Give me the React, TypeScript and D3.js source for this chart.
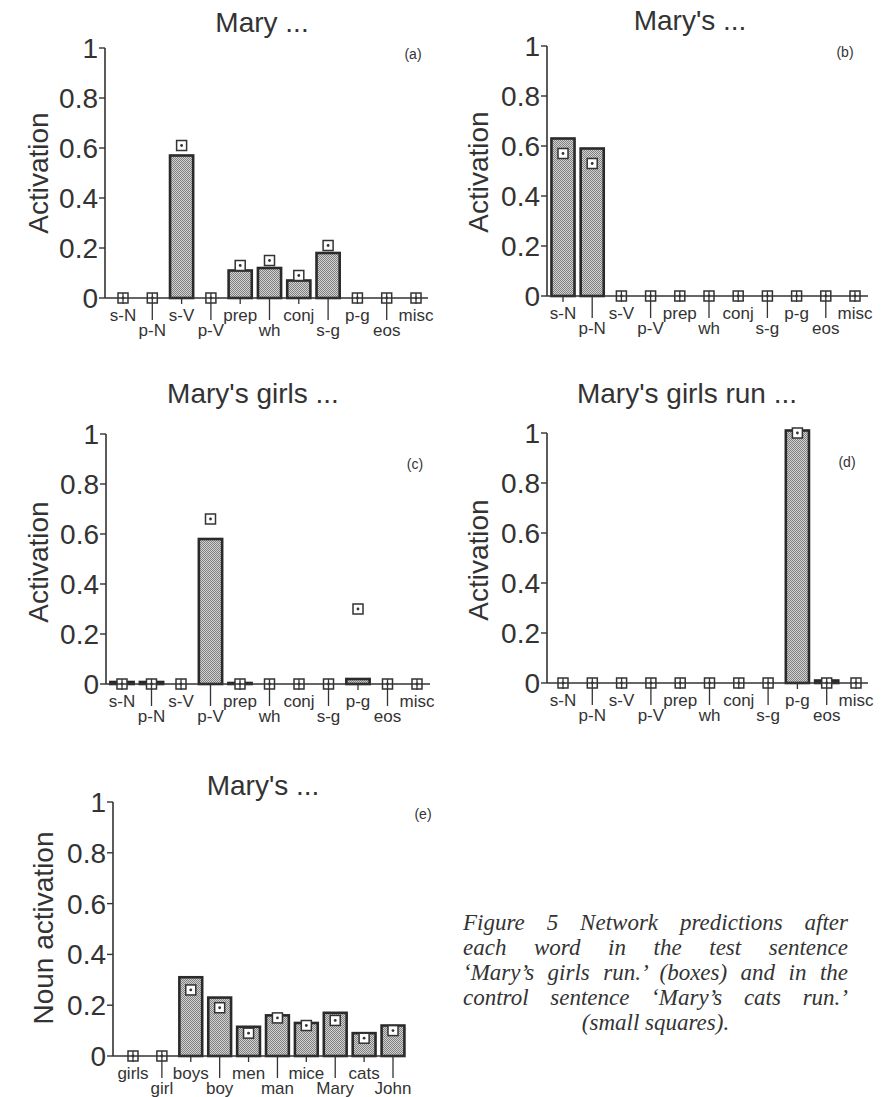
import { useLayoutEffect, useRef, useState } from 'react'
import * as d3 from 'd3'

// categories
const CATS = ['s-N', 'p-N', 's-V', 'p-V', 'prep', 'wh', 'conj', 's-g', 'p-g', 'eos', 'misc']
const NOUNS = ['girls', 'girl', 'boys', 'boy', 'men', 'man', 'mice', 'Mary', 'cats', 'John']

// boxes = test sentence, squares = control sentence
const A_BOXES = [0, 0, 0.57, 0, 0.11, 0.12, 0.07, 0.18, 0, 0, 0]
const A_SQUARES = [0, 0, 0.61, 0, 0.13, 0.15, 0.09, 0.21, 0, 0, 0]
const B_BOXES = [0.63, 0.59, 0, 0, 0, 0, 0, 0, 0, 0, 0]
const B_SQUARES = [0.57, 0.53, 0, 0, 0, 0, 0, 0, 0, 0, 0]
const C_BOXES = [0.008, 0.008, 0, 0.58, 0.004, 0, 0, 0, 0.02, 0, 0]
const C_SQUARES = [0, 0, 0, 0.66, 0, 0, 0, 0, 0.3, 0, 0]
const D_BOXES = [0, 0, 0, 0, 0, 0, 0, 0, 1.01, 0.01, 0]
const D_SQUARES = [0, 0, 0, 0, 0, 0, 0, 0, 1.0, 0, 0]
const E_BOXES = [0, 0, 0.31, 0.23, 0.115, 0.16, 0.13, 0.17, 0.09, 0.12]
const E_SQUARES = [0, 0, 0.26, 0.19, 0.09, 0.15, 0.12, 0.14, 0.07, 0.1]

const Y_TICKS = [0, 0.2, 0.4, 0.6, 0.8, 1]
const Y_TICK_LABELS = ['0', '0.2', '0.4', '0.6', '0.8', '1']

const CAPTION = [
  'Figure 5 Network predictions after',
  'each word in the test sentence',
  '\u2018Mary\u2019s girls run.\u2019 (boxes) and in the',
  'control sentence \u2018Mary\u2019s cats run.\u2019',
  '(small squares).',
]

const INK = '#333'
const SANS = '"Liberation Sans", Arial, Helvetica, sans-serif'

const panels = [
  { title: 'Mary ...', tag: '(a)', ylabel: 'Activation', cats: CATS, boxes: A_BOXES, squares: A_SQUARES,
    ax: 105, y0: 298, y1: 48, x0: 123, x1: 416, xEnd: 428, tx: 262, ty: 32, gx: 413, gy: 59, lx: 38, ly: 173 },
  { title: "Mary's ...", tag: '(b)', ylabel: 'Activation', cats: CATS, boxes: B_BOXES, squares: B_SQUARES,
    ax: 547, y0: 296, y1: 46, x0: 563, x1: 855, xEnd: 868, tx: 690, ty: 30, gx: 845, gy: 57, lx: 478, ly: 172 },
  { title: "Mary's girls ...", tag: '(c)', ylabel: 'Activation', cats: CATS, boxes: C_BOXES, squares: C_SQUARES,
    ax: 106, y0: 684, y1: 434, x0: 122, x1: 417, xEnd: 430, tx: 253, ty: 403, gx: 415, gy: 469, lx: 38, ly: 562 },
  { title: "Mary's girls run ...", tag: '(d)', ylabel: 'Activation', cats: CATS, boxes: D_BOXES, squares: D_SQUARES,
    ax: 547, y0: 683, y1: 433, x0: 563, x1: 856, xEnd: 868, tx: 687, ty: 403, gx: 847, gy: 467, lx: 478, ly: 560 },
  { title: "Mary's ...", tag: '(e)', ylabel: 'Noun activation', cats: NOUNS, boxes: E_BOXES, squares: E_SQUARES,
    ax: 113, y0: 1056, y1: 802, x0: 133, x1: 393, xEnd: 405, tx: 263, ty: 795, gx: 423, gy: 819, lx: 43, ly: 928 },
]

function Panel({ p }) {
  const x = d3.scalePoint().domain(p.cats).range([p.x0, p.x1])
  const y = d3.scaleLinear().domain([0, 1]).range([p.y0, p.y1])
  const bw = x.step() * 0.79
  const sq = 10

  return (
    <g>
      <text x={p.tx} y={p.ty} textAnchor="middle" fontSize={28} fill={INK} fontFamily={SANS}>{p.title}</text>
      <text x={p.gx} y={p.gy} textAnchor="middle" fontSize={14} fill={INK} fontFamily={SANS}>{p.tag}</text>
      <text transform={`translate(${p.lx},${p.ly}) rotate(-90)`} textAnchor="middle" dominantBaseline="central"
        fontSize={28} fill={INK} fontFamily={SANS}>{p.ylabel}</text>

      {/* bars */}
      {p.boxes.map((v, i) => v > 0 && (
        <rect key={'b' + i} x={x(p.cats[i]) - bw / 2} y={y(v)} width={bw} height={p.y0 - y(v)}
          fill="url(#stip)" stroke="#2a2a2a" strokeWidth={2.6} />
      ))}

      {/* control squares */}
      {p.squares.map((v, i) => (
        <g key={'s' + i} transform={`translate(${x(p.cats[i])},${y(v)})`}>
          <rect x={-sq / 2} y={-sq / 2} width={sq} height={sq} fill="#fff" stroke={INK} strokeWidth={1.5} />
          <circle r={1.4} fill={INK} />
        </g>
      ))}

      {/* y axis */}
      <line x1={p.ax} x2={p.ax} y1={y(1)} y2={p.y0} stroke={INK} strokeWidth={1.6} />
      {Y_TICKS.map((t, i) => (
        <g key={'y' + i}>
          <line x1={p.ax - 6} x2={p.ax} y1={y(t)} y2={y(t)} stroke={INK} strokeWidth={1.4} />
          <text x={p.ax - 7} y={y(t)} dy="0.36em" textAnchor="end" fontSize={28} fill={INK} fontFamily={SANS}>
            {Y_TICK_LABELS[i]}
          </text>
        </g>
      ))}

      {/* x axis */}
      <line x1={p.ax} x2={p.xEnd} y1={p.y0} y2={p.y0} stroke={INK} strokeWidth={1.6} />
      {p.cats.map((c, i) => (
        <g key={'x' + i}>
          <line x1={x(c)} x2={x(c)} y1={p.y0 - (p.squares[i] === 0 ? sq / 2 : 0)} y2={p.y0 + (i % 2 ? 22 : 6)}
            stroke={INK} strokeWidth={1.3} />
          <text x={x(c)} y={p.y0 + (i % 2 ? 38 : 23)} textAnchor="middle" fontSize={17} fill={INK} fontFamily={SANS}>
            {c}
          </text>
        </g>
      ))}
    </g>
  )
}

export default function App() {
  const capX0 = 463
  const capX1 = 848
  const capY = 930
  const capStep = 25
  const capRefs = useRef([])
  const [wordGap, setWordGap] = useState(CAPTION.map(() => 0))

  // justify caption lines by spreading the spaces between words
  useLayoutEffect(() => {
    setWordGap(CAPTION.map((line, i) => {
      const el = capRefs.current[i]
      if (!el || i === CAPTION.length - 1) return 0
      const gaps = line.split(' ').length - 1
      return Math.max(0, (capX1 - capX0 - el.getComputedTextLength()) / gaps)
    }))
  }, [])

  return (
    <svg width={887} height={1097} style={{ position: 'absolute', left: 0, top: 0, background: '#fff' }}>
      <defs>
        <pattern id="stip" width={2} height={2} patternUnits="userSpaceOnUse">
          <rect width={2} height={2} fill="#d2d2d2" />
          <rect x={0} y={0} width={1} height={1} fill="#808080" />
          <rect x={1} y={1} width={1} height={1} fill="#808080" />
        </pattern>
      </defs>
      {panels.map((p, i) => <Panel key={i} p={p} />)}

      <g fontFamily='"Liberation Serif", "DejaVu Serif", serif' fontStyle="italic" fontSize={23} fill={INK}>
        {CAPTION.map((line, i) => i < CAPTION.length - 1 ? (
          <text key={i} ref={el => { capRefs.current[i] = el }} x={capX0} y={capY + i * capStep}
            wordSpacing={wordGap[i]}>{line}</text>
        ) : (
          <text key={i} x={(capX0 + capX1) / 2} y={capY + i * capStep} textAnchor="middle">{line}</text>
        ))}
      </g>
    </svg>
  )
}
